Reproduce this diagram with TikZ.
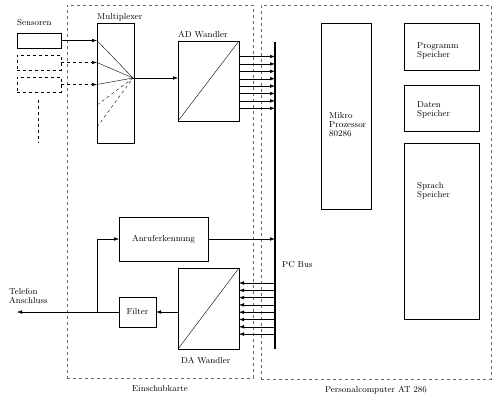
\documentclass[tikz,border=0pt]{standalone}
\usetikzlibrary{arrows.meta}
\begin{document}
\begin{tikzpicture}[x=1pt,y=-1pt,>={Latex[length=5pt,width=3.5pt]},
    font=\fontsize{8.7}{9}\selectfont,
    block/.style={draw,line width=0.7pt,inner sep=0pt,outer sep=0pt,anchor=north west},
    frame/.style={draw=black!60,dashed,inner sep=0pt,outer sep=0pt,anchor=north west},
    txt/.style={inner sep=0pt,anchor=base west,align=left}]

    \useasboundingbox (0,0) rectangle (501,405);

    %frames
    \node[frame,minimum width=186pt,minimum height=373pt,
          label={[label distance=4pt]below:Einschubkarte}] (karte) at (67,5) {};
    \node[frame,minimum width=230pt,minimum height=374pt,
          label={[label distance=4pt]below:Personalcomputer AT 286}] (pc) at (261,5) {};

    %sensors
    \node[block,minimum width=44pt,minimum height=15pt] (sens) at (17,33) {};
    \node[block,dashed,line width=0.5pt,minimum width=44pt,minimum height=15pt] (sensb) at (17,55) {};
    \node[block,dashed,line width=0.5pt,minimum width=44pt,minimum height=15pt] (sensc) at (17,77) {};
    \node[txt] at ([yshift=8pt]sens.north west) {Sensoren};
    \coordinate (more1) at (38,100);
    \coordinate (more2) at (38,143);
    \draw[dashed] (more1) -- (more2);

    %multiplexer
    \node[block,minimum width=37pt,minimum height=120pt] (mux) at (97,23) {};
    \node[txt] at ([yshift=4pt]mux.north west) {Multiplexer};
    \coordinate (mx) at ([xshift=-1pt,yshift=-55pt]mux.north east);
    \draw[->] (sens.east) -- (sens.east -| mux.west);
    \draw[->,dashed] (sensb.east) -- (sensb.east -| mux.west);
    \draw[->,dashed] (sensc.east) -- (sensc.east -| mux.west);
    \draw[thin] (sens.east -| mux.west) -- (mx);
    \draw[thin] (sensb.east -| mux.west) -- (mx);
    \draw[thin] (sensc.east -| mux.west) -- (mx);
    \draw[thin,dashed] ([yshift=-82pt]mux.north west) -- (mx);
    \draw[thin,dashed] ([yshift=-104pt]mux.north west) -- (mx);

    %AD converter
    \node[block,minimum width=61pt,minimum height=80pt] (ad) at (178,41) {};
    \node[txt] at ([yshift=4pt]ad.north west) {AD Wandler};
    \draw[thin] (ad.south west) -- (ad.north east);
    \draw[->] (mx) -- (mx -| ad.west);

    %bus
    \coordinate (bustop) at (275,42);
    \coordinate (busbot) at (275,349);
    \draw[line width=2pt] (bustop) -- (busbot);
    \node[txt] at (282,267) {PC Bus};

    \foreach \i in {0,...,7}
    {
        \path ([yshift=-15.5pt-7.4pt*\i]ad.north east) coordinate (a\i);
        \draw[->] (a\i) -- (a\i -| bustop);
    }

    %call detection
    \node[block,minimum width=89pt,minimum height=44pt] (anruf) at (119,217) {Anruferkennung};
    \draw[->] (anruf.east) -- (anruf.east -| bustop);

    %DA converter
    \node[block,minimum width=61pt,minimum height=81pt] (da) at (178,268) {};
    \node[txt] at ([xshift=3pt,yshift=-14pt]da.south west) {DA Wandler};
    \draw[thin] (da.south west) -- (da.north east);

    \foreach \i in {0,...,7}
    {
        \path ([yshift=-15pt-7.3pt*\i]da.north east) coordinate (d\i);
        \draw[<-] (d\i) -- (d\i -| bustop);
    }

    %filter and phone line
    \node[block,minimum width=37pt,minimum height=30pt] (filter) at (119,297) {Filter};
    \draw[->] (da.west |- filter.east) -- (filter.east);
    \coordinate (tel) at (17,312);
    \coordinate (split) at (97,312);
    \draw[->] (filter.west) -- (tel);
    \draw[->] (split) |- (anruf.west);
    \node[txt] at (9,303) {Telefon\\Anschluss};

    %computer
    \node[block,minimum width=50pt,minimum height=186pt] (cpu) at (321,23) {};
    \node[txt] at (329,136) {Mikro\\Prozessor\\80286};
    \node[block,minimum width=75pt,minimum height=47pt] (prog) at (404,23) {};
    \node[txt] at (417,57) {Programm\\Speicher};
    \node[block,minimum width=75pt,minimum height=46pt] (daten) at (404,85) {};
    \node[txt] at (417,116) {Daten\\Speicher};
    \node[block,minimum width=75pt,minimum height=176pt] (sprach) at (404,143) {};
    \node[txt] at (417,197) {Sprach\\Speicher};
\end{tikzpicture}
\end{document}
